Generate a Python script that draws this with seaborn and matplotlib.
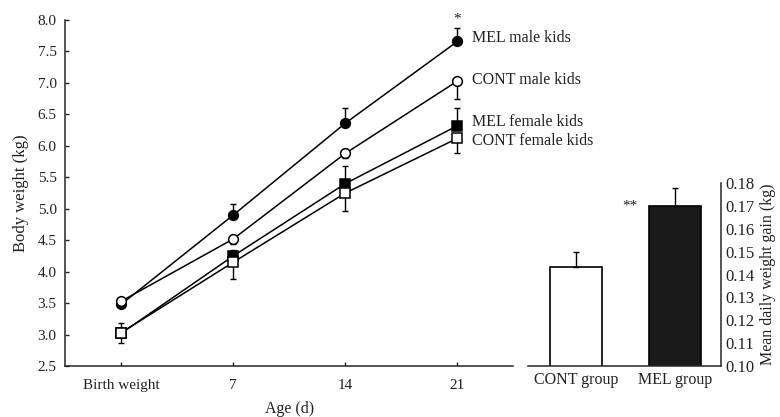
import matplotlib
matplotlib.use("Agg")
import matplotlib.pyplot as plt
import seaborn as sns
import numpy as np
import pandas as pd

# line chart data
ages = ['Birth weight', '7', '14', '21']
mel_male = [3.48, 4.90, 6.36, 7.66]
cont_male = [3.53, 4.52, 5.88, 7.03]
mel_female = [3.02, 4.25, 5.40, 6.32]
cont_female = [3.03, 4.15, 5.25, 6.12]
# SE (upper side for MEL, lower side for CONT)
mel_male_se = [0.10, 0.18, 0.24, 0.21]
cont_male_se = [0.08, 0.08, 0.08, 0.28]
mel_female_se = [0.16, 0.10, 0.28, 0.28]
cont_female_se = [0.16, 0.27, 0.28, 0.24]

# bar chart data
groups = ['CONT group', 'MEL group']
gain = [0.1435, 0.170]
gain_se = [0.0065, 0.008]

sns.set_style("ticks")
plt.rcParams['font.family'] = ['Liberation Serif', 'DejaVu Serif']
plt.rcParams['font.size'] = 11
plt.rcParams['text.color'] = '#222222'
plt.rcParams['xtick.labelcolor'] = '#222222'
plt.rcParams['ytick.labelcolor'] = '#222222'
plt.rcParams['axes.labelcolor'] = '#222222'

fig = plt.figure(figsize=(7.8, 4.17), dpi=100)
ax = fig.add_axes([0.0833, 0.122, 0.575, 0.830])
ax2 = fig.add_axes([0.677, 0.122, 0.247, 0.439])

series = [
    ('MEL male kids', mel_male, mel_male_se, 'o', 'black', 'up'),
    ('CONT male kids', cont_male, cont_male_se, 'o', 'white', 'down'),
    ('MEL female kids', mel_female, mel_female_se, 's', 'black', 'up'),
    ('CONT female kids', cont_female, cont_female_se, 's', 'white', 'down'),
]
x = np.arange(len(ages))
for name, vals, se, mk, fc, side in series:
    df = pd.DataFrame({'pos': x, 'weight': vals})
    se = np.array(se)
    if side == 'up':
        yerr = [np.zeros_like(se), se]
    else:
        yerr = [se, np.zeros_like(se)]
    ax.errorbar(x, vals, yerr=yerr, fmt='none', ecolor='black', elinewidth=1,
                capsize=2.5, capthick=1, zorder=2)
    sns.lineplot(data=df, x='pos', y='weight', ax=ax, color='black', lw=1.1,
                 marker=mk, markersize=7, markerfacecolor=fc,
                 markeredgecolor='black', markeredgewidth=1.1, zorder=3)

label_y = [7.72, 7.05, 6.38, 6.08]
for (name, *_), ly in zip(series, label_y):
    ax.text(3.13, ly, name, va='center', ha='left', fontsize=11.5)
ax.text(3.0, 8.02, '*', ha='center', va='center', fontsize=11)

ax.set_xlim(-0.5, 3.5)
ax.set_ylim(2.5, 8.0)
ax.set_yticks(np.arange(2.5, 8.01, 0.5))
ax.set_yticklabels([f'{v:.1f}' for v in np.arange(2.5, 8.01, 0.5)])
ax.set_xticks(x)
ax.set_xticklabels(ages)
ax.tick_params(direction='in', length=3, width=1, pad=6, labelsize=11)
ax.tick_params(axis='x', pad=9)
ax.set_xlabel('Age (d)', labelpad=7, fontsize=11.5)
ax.set_ylabel('Body weight (kg)', labelpad=6, fontsize=12)
sns.despine(ax=ax)

# bar chart
bdf = pd.DataFrame({'group': groups, 'gain': gain})
sns.barplot(data=bdf, x='group', y='gain', hue='group', palette=['white', '#1a1a1a'],
            edgecolor='black', linewidth=1.2, width=0.52, ax=ax2, legend=False)
ax2.errorbar(np.arange(len(groups)), gain, yerr=[np.zeros(len(gain)), gain_se],
             fmt='none', ecolor='black', elinewidth=1, capsize=2.5, capthick=1)
ax2.text(0.55, 0.170, '**', ha='center', va='center', fontsize=11)
ax2.set_xlim(-0.48, 1.46)
ax2.set_ylim(0.10, 0.18)
ax2.set_yticks(np.arange(0.10, 0.1801, 0.01))
ax2.set_yticklabels([f'{v:.2f}' for v in np.arange(0.10, 0.1801, 0.01)])
ax2.yaxis.tick_right()
ax2.yaxis.set_label_position('right')
ax2.tick_params(axis='y', direction='out', length=2.5, width=1, pad=1, labelsize=12)
ax2.tick_params(axis='x', length=0, pad=4, labelsize=11.5)
ax2.set_xlabel('')
ax2.set_ylabel('Mean daily weight gain (kg)', labelpad=4, fontsize=11.5)
sns.despine(ax=ax2, left=True, right=False)

for a in (ax, ax2):
    for s in a.spines.values():
        s.set_linewidth(1.1)

fig.savefig('out.png', dpi=100)
